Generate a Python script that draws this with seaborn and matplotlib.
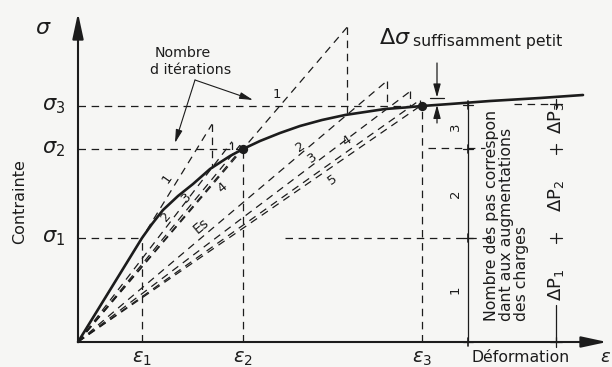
import numpy as np
import pandas as pd
import matplotlib
matplotlib.use("Agg")
import matplotlib.pyplot as plt
import seaborn as sns

# ---------------- data (arbitrary units) ----------------
curve_eps = [0.00, 0.64, 0.74, 0.85, 1.00, 1.15, 1.32, 1.52, 1.65, 1.82, 2.02, 2.22,
             2.44, 2.67, 2.87, 3.07, 3.27, 3.44, 3.72, 4.12, 4.62, 5.05]
curve_sig = [0.00, 1.04, 1.18, 1.32, 1.46, 1.58, 1.73, 1.86, 1.93, 2.01, 2.09, 2.16,
             2.22, 2.27, 2.30, 2.33, 2.345, 2.36, 2.38, 2.41, 2.44, 2.47]

eps_levels = [0.64, 1.65, 3.44]
eps_labels = [r"$\varepsilon_1$", r"$\varepsilon_2$", r"$\varepsilon_3$"]
sig_levels = [1.04, 1.93, 2.36]
sig_labels = [r"$\sigma_1$", r"$\sigma_2$", r"$\sigma_3$"]

# strains at which the secant of each iteration is taken (step 2 -> sigma2, step 3 -> sigma3)
step2_anchor_eps = [0.64, 1.34, 1.54, 1.62, 1.65]
step3_anchor_eps = [1.65, 2.69, 3.09, 3.32, 3.42, 3.44]
step2_iter_labels = ["1", "2", "3", "4"]
step3_iter_labels = ["1", "2", "3", "4", "5"]

load_step_labels = ["1", "2", "3"]
load_step_bounds = [0.0, 1.04, 1.93, 2.37]
dP_labels = [r"$\Delta$P$_1$", r"$\Delta$P$_2$", r"$\Delta$P$_3$"]
dP_bounds = [0.0, 1.04, 1.93, 2.38]
step_column_eps = 3.90
dP_column_eps = 4.78

# ---------------- styling ----------------
sns.set_style("white")
plt.rcParams["font.family"] = ["DejaVu Sans"]
plt.rcParams["mathtext.fontset"] = "dejavusans"
INK = "#1c1c1c"
BG = "#f6f6f4"
DASH = (0, (6, 4.5))
LW_D = 0.9

fig = plt.figure(figsize=(6.12, 3.67), dpi=100, facecolor=BG)
ax = fig.add_axes([0, 0, 1, 1])
ax.set_facecolor(BG)
ax.set_xlim(-0.78, 5.34)
ax.set_ylim(-0.25, 3.42)
ax.axis("off")

def sig_at(e):
    return float(np.interp(e, curve_eps, curve_sig))

# axes with arrows
ax.annotate("", xy=(0, 3.29), xytext=(0, 0),
            arrowprops=dict(arrowstyle="-|>,head_length=1.3,head_width=0.28",
                            mutation_scale=12, lw=1.5, color=INK, shrinkA=0, shrinkB=0))
ax.annotate("", xy=(5.29, 0), xytext=(0, 0),
            arrowprops=dict(arrowstyle="-|>,head_length=1.3,head_width=0.28",
                            mutation_scale=12, lw=1.5, color=INK, shrinkA=0, shrinkB=0))

# main curve (seaborn)
df = pd.DataFrame({"eps": curve_eps, "sig": curve_sig})
sns.lineplot(data=df, x="eps", y="sig", ax=ax, color=INK, lw=1.9, sort=False,
             estimator=None, zorder=5)
pts = pd.DataFrame({"eps": eps_levels[1:], "sig": sig_levels[1:]})
sns.scatterplot(data=pts, x="eps", y="sig", ax=ax, color=INK, s=45, zorder=6,
                edgecolor=INK, linewidth=0)

# reference dashed lines to the axes
for e, s in zip(eps_levels, sig_levels):
    ax.plot([0, e], [s, s], color=INK, lw=LW_D, ls=DASH)
    ax.plot([e, e], [0, s], color=INK, lw=LW_D, ls=DASH)
for e, lab in zip(eps_levels, eps_labels):
    ax.text(e, -0.165, lab, ha="center", va="center", fontsize=14, color=INK)
for s, lab in zip(sig_levels, sig_labels):
    ax.text(-0.24, s, lab, ha="center", va="center", fontsize=15, color=INK)

# secant iterations
def draw_iterations(anchors):
    n = len(anchors) - 1
    for k in range(n):
        a = anchors[k]
        slope = sig_at(a) / a
        xe = anchors[k + 1]
        ax.plot([0, xe], [0, slope * xe], color=INK, lw=LW_D, ls=DASH)
        if k + 1 < n:
            ax.plot([xe, xe], [slope * xe, sig_at(xe)], color=INK, lw=LW_D, ls=DASH)

draw_iterations(step2_anchor_eps)
draw_iterations(step3_anchor_eps)

step2_pos = [(0.89, 1.63, 55), (0.88, 1.26, 50), (1.09, 1.44, 45), (1.44, 1.54, 40)]
for lab, (x, y, r) in zip(step2_iter_labels, step2_pos):
    ax.text(x, y, lab, ha="center", va="center", fontsize=9.5, rotation=r, color=INK)
step3_pos = [(1.99, 2.47, 0), (2.22, 1.95, 35), (2.34, 1.84, 35), (2.69, 2.01, 35), (2.54, 1.62, 35)]
for lab, (x, y, r) in zip(step3_iter_labels, step3_pos):
    ax.text(x, y, lab, ha="center", va="center", fontsize=9.5, rotation=r, color=INK)
ax.text(1.23, 1.16, "Es", ha="center", va="center", fontsize=10, rotation=40, color=INK)

# right-hand side: dashed continuations of stress levels
ax.plot([2.07, 4.12], [sig_levels[0], sig_levels[0]], color=INK, lw=LW_D, ls=DASH)
ax.plot([3.50, 4.07], [sig_levels[1] + 0.01, sig_levels[1] + 0.01], color=INK, lw=LW_D, ls=DASH)
ax.plot([4.36, dP_column_eps], [dP_bounds[3], dP_bounds[3]], color=INK, lw=LW_D, ls=DASH)

# load-step column
ax.plot([step_column_eps, step_column_eps], [0, sig_at(step_column_eps)], color=INK, lw=0.9)
for b in load_step_bounds:
    ax.plot([step_column_eps - 0.05, step_column_eps + 0.05], [b, b], color=INK, lw=0.9)
    ax.plot([step_column_eps, step_column_eps], [b - 0.04, b + 0.04], color=INK, lw=1.2)
for i, lab in enumerate(load_step_labels):
    ym = 0.5 * (load_step_bounds[i] + load_step_bounds[i + 1])
    ax.text(step_column_eps - 0.13, ym, lab, ha="center", va="center", fontsize=9.5,
            rotation=90, color=INK)

col_text = ["Nombre des pas correspon", "dant aux augmentations", "des charges"]
for i, t in enumerate(col_text):
    ax.text(4.135 + 0.15 * i, 0.21, t, ha="center", va="bottom", rotation=90,
            fontsize=11.3, color=INK, clip_on=True)

# delta-P column
ax.plot([dP_column_eps, dP_column_eps], [0, 0.37], color=INK, lw=0.9)
for b in dP_bounds:
    ax.plot([dP_column_eps - 0.06, dP_column_eps + 0.06], [b, b], color=INK, lw=0.9)
    ax.plot([dP_column_eps, dP_column_eps], [b - 0.05, b + 0.05], color=INK, lw=0.9)
dP_offsets = [0.05, -0.02, 0.09]
for i, lab in enumerate(dP_labels):
    ym = 0.5 * (dP_bounds[i] + dP_bounds[i + 1]) + dP_offsets[i]
    ax.text(dP_column_eps, ym, lab, ha="center", va="center", fontsize=13,
            rotation=90, color=INK)

# delta-sigma annotation
xs = 3.59
ax.annotate("", xy=(xs, 2.445), xytext=(xs, 2.79),
            arrowprops=dict(arrowstyle="-|>,head_length=0.8,head_width=0.22",
                            mutation_scale=10, lw=0.9, color=INK, shrinkA=0, shrinkB=0))
ax.annotate("", xy=(xs, sig_at(xs)), xytext=(xs, 2.19),
            arrowprops=dict(arrowstyle="-|>,head_length=0.8,head_width=0.22",
                            mutation_scale=10, lw=0.9, color=INK, shrinkA=0, shrinkB=0))
ax.plot([xs - 0.07, xs + 0.07], [2.44, 2.44], color=INK, lw=0.9)
ax.text(3.17, 3.04, r"$\Delta\sigma$", ha="center", va="center", fontsize=16, color=INK)
ax.text(3.35, 3.00, "suffisamment petit", ha="left", va="center", fontsize=11.3, color=INK)

# iterations annotation
ax.text(1.05, 2.89, "Nombre", ha="center", va="center", fontsize=10.2, color=INK)
ax.text(1.13, 2.72, "d itérations", ha="center", va="center", fontsize=10.2, color=INK)
for tgt in [(1.75, 2.42), (0.97, 1.99)]:
    ax.annotate("", xy=tgt, xytext=(1.17, 2.62),
                arrowprops=dict(arrowstyle="-|>,head_length=0.8,head_width=0.2",
                                mutation_scale=10, lw=0.8, color=INK, shrinkA=0, shrinkB=0))

# axis titles
ax.text(-0.35, 3.14, r"$\sigma$", ha="center", va="center", fontsize=16, color=INK)
ax.text(-0.58, 1.40, "Contrainte", ha="center", va="center", rotation=90, fontsize=11.5, color=INK)
ax.text(4.43, -0.15, "Déformation", ha="center", va="center", fontsize=11.3, color=INK)
ax.text(5.335, -0.15, r"$\varepsilon$", ha="right", va="center", fontsize=13, color=INK)

fig.savefig("out.png", dpi=100, facecolor=BG)
